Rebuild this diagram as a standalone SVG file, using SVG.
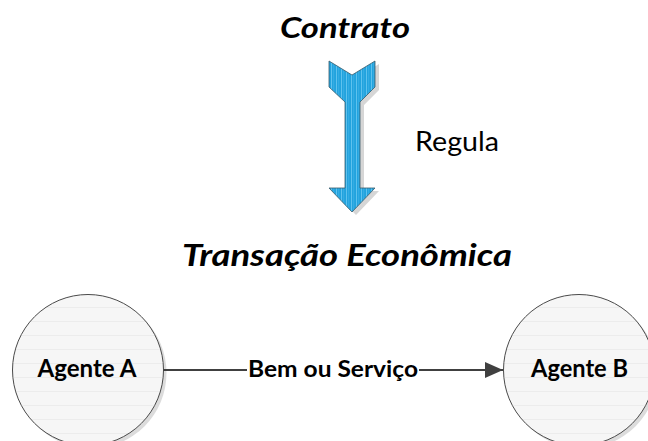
<svg xmlns="http://www.w3.org/2000/svg" width="648" height="441" viewBox="0 0 648 441">
  <defs>
    <style>
      .title { font-family: Lato, "Liberation Sans", sans-serif; font-weight: bold; font-style: italic; fill: #000; text-anchor: middle; }
      .lbl { font-family: Lato, "Liberation Sans", sans-serif; fill: #000; text-anchor: middle; }
      .bold { font-weight: bold; }
      .agent { fill: url(#circleFill); stroke: #4a4a4a; stroke-width: 1; }
      .shadow { fill: #dcdcdc; }
      .conn { stroke: #404040; stroke-width: 2; fill: none; }
    </style>
    <pattern id="stripes" patternUnits="userSpaceOnUse" width="5" height="10">
      <rect width="5" height="10" fill="#22A3DE"/>
      <rect x="1" width="1" height="10" fill="#5FC2EE"/>
      <rect x="3.5" width="0.6" height="10" fill="#47B5E8"/>
    </pattern>
    <pattern id="circleFill" patternUnits="userSpaceOnUse" width="10" height="14">
      <rect width="10" height="14" fill="#F6F6F6"/>
      <rect y="13" width="10" height="1" fill="#ECECEC"/>
    </pattern>
    <marker id="arrowHead" markerUnits="userSpaceOnUse" markerWidth="20" markerHeight="18" refX="18" refY="8" orient="auto">
      <path d="M0,0 L18,8 L0,16 Z" fill="#404040"/>
    </marker>
  </defs>

  <rect width="648" height="441" fill="#fff"/>

  <g id="contrato">
    <text class="title" x="345" y="38" font-size="28" textLength="130" lengthAdjust="spacingAndGlyphs">Contrato</text>
  </g>

  <g id="transacao">
    <text class="title" x="347" y="266" font-size="30" textLength="330" lengthAdjust="spacingAndGlyphs">Transação Econômica</text>
  </g>

  <g id="agente-a">
    <circle class="shadow" cx="91" cy="373" r="75.5"/>
    <circle class="agent" cx="88" cy="370" r="75.5"/>
    <text class="lbl bold" x="87" y="377" font-size="24" textLength="99" lengthAdjust="spacingAndGlyphs">Agente A</text>
  </g>

  <g id="agente-b">
    <circle class="shadow" cx="582" cy="373" r="75.5"/>
    <circle class="agent" cx="579" cy="370" r="75.5"/>
    <text class="lbl bold" x="579.5" y="377" font-size="24" textLength="97" lengthAdjust="spacingAndGlyphs">Agente B</text>
  </g>

  <g id="connectors">
    <g id="regula-arrow">
      <path d="M333,64 L356,78 L379,64 L379,90 L364,105 L364,191 L379,191 L356,215 L333,191 L349,191 L349,105 L333,90 Z" fill="#d6d6d6"/>
      <path d="M329,61 L352,75 L375,61 L375,87 L360,102 L360,188 L375,188 L352,212 L329,188 L345,188 L345,102 L329,87 Z" fill="url(#stripes)" stroke="#3a5a6a" stroke-width="0.8" stroke-linejoin="miter"/>
      <text class="lbl" x="457" y="151" font-size="26" textLength="84" lengthAdjust="spacingAndGlyphs">Regula</text>
    </g>
    <g id="bem-servico">
      <line class="conn" x1="163.5" y1="370" x2="503" y2="370" marker-end="url(#arrowHead)"/>
      <rect x="247" y="356" width="172" height="28" fill="#fff"/>
      <text class="lbl bold" x="333" y="377" font-size="22" textLength="170" lengthAdjust="spacingAndGlyphs">Bem ou Serviço</text>
    </g>
  </g>
</svg>
